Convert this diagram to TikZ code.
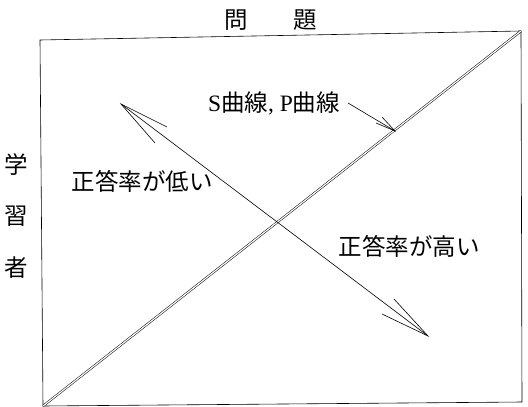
\documentclass[tikz,border=0pt]{standalone}
\usepackage{fontspec}
\setmainfont{Liberation Serif}
\newfontfamily\cjk{Noto Sans CJK JP}
\begin{document}
\begin{tikzpicture}[x=1pt,y=-1pt,
  lbl/.style={inner sep=0pt,font=\fontsize{23.5}{26}\selectfont\cjk},
  thin/.style={line width=0.6pt},
  dbl/.style={double,double distance=1.2pt,line width=0.5pt}]
\useasboundingbox (0,0) rectangle (528,407);
% frame corners
\coordinate (tl) at (40,40);
\coordinate (tr) at (521,31);
\coordinate (br) at (522,402);
\coordinate (bl) at (43,406);
\draw[thin] (tl) -- (tr) -- (br) -- (bl) -- cycle;
% diagonal double line
\draw[dbl] (bl) -- (tr);
% main arrow
\coordinate (a1) at (121,104);
\coordinate (a2) at (428,336);
\coordinate (a1b1) at (167,127);
\coordinate (a1b2) at (155,143);
\coordinate (a2b1) at (382,314);
\coordinate (a2b2) at (394,299);
\draw[thin] (a1) -- (a2);
\draw[thin] (a1b1) -- (a1) -- (a1b2);
\draw[thin] (a2b1) -- (a2) -- (a2b2);
% S/P curve arrow
\coordinate (s1) at (348,103);
\coordinate (s2) at (395,131);
\coordinate (sb1) at (376,123);
\coordinate (sb2) at (382,117);
\draw[thin] (s1) -- (s2);
\draw[thin] (sb1) -- (s2) -- (sb2);
% labels
\node[lbl] (q1) at (236,20) {問};
\node[lbl] (q2) at (305,20) {題};
\node[lbl] (sp) at (274,103) {\rmfamily S\cjk 曲線\rmfamily, P\cjk 曲線};
\node[lbl] (low) at (142,181) {正答率が低い};
\node[lbl] (high) at (409,246) {正答率が高い};
\node[lbl] (g1) at (16,165) {学};
\node[lbl] (g2) at (16,216) {習};
\node[lbl] (g3) at (16,268) {者};
\end{tikzpicture}
\end{document}
